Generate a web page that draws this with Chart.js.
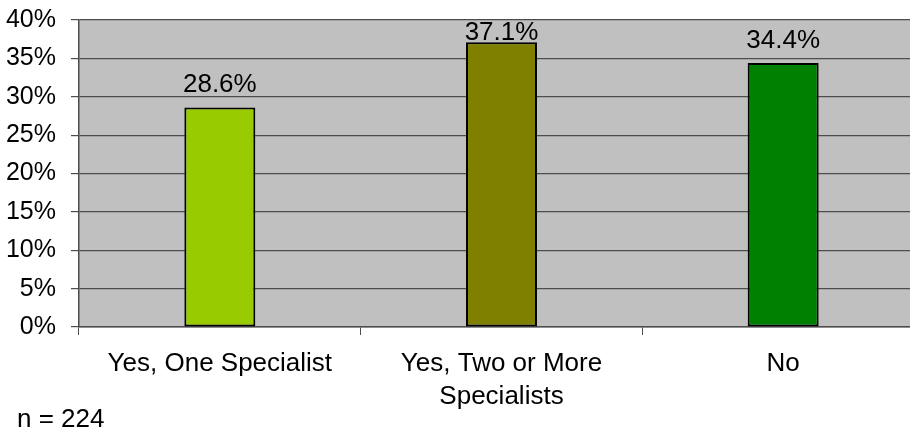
<!DOCTYPE html>
<html>
<head>
<meta charset="utf-8">
<script src="https://cdn.jsdelivr.net/npm/chart.js@4"></script>
<style>
  html, body { margin: 0; padding: 0; background: #fff; overflow: hidden; }
  #wrap { position: relative; width: 910px; height: 431px; overflow: hidden; }
  #chart { position: absolute; left: 0; top: -10px; }
</style>
</head>
<body>
<div id="wrap"><canvas id="chart" width="924" height="441"></canvas></div>
<script>
// ---------- DATA ----------
const categories = ["Yes, One Specialist", ["Yes, Two or More", "Specialists"], "No"];
const values = [28.6, 37.1, 34.4];
const barColors = ["#99CC00", "#808000", "#008000"];
const sampleNote = "n = 224";

const FONT = "'Liberation Sans', Arial, sans-serif";

// plot background + value labels + footnote
const extras = {
  id: "extras",
  beforeDraw(chart) {
    const { ctx, chartArea: a } = chart;
    ctx.save();
    ctx.fillStyle = "#C0C0C0";
    ctx.fillRect(a.left, a.top, a.right - a.left, a.bottom - a.top);
    ctx.restore();
  },
  afterDatasetsDraw(chart) {
    const { ctx, chartArea: a } = chart;
    const meta = chart.getDatasetMeta(0);
    ctx.save();
    ctx.font = "26px " + FONT;
    ctx.fillStyle = "#000";
    ctx.textAlign = "center";
    ctx.textBaseline = "alphabetic";
    meta.data.forEach((bar, i) => {
      let y = bar.y - 15;
      if (y < a.top + 20) y = a.top + 20;
      ctx.fillText(values[i].toFixed(1) + "%", bar.x, y);
    });
    ctx.textAlign = "left";
    ctx.fillText(sampleNote, 17, 437);
    ctx.restore();
  }
};

new Chart(document.getElementById("chart"), {
  type: "bar",
  data: {
    labels: categories,
    datasets: [{
      data: values,
      backgroundColor: barColors,
      borderColor: "#000",
      borderWidth: 2,
      borderSkipped: false,
      categoryPercentage: 1,
      barPercentage: 0.252
    }]
  },
  options: {
    responsive: false,
    animation: false,
    layout: { padding: { top: 10, right: 0, left: 0, bottom: 0 } },
    plugins: { legend: { display: false }, tooltip: { enabled: false } },
    scales: {
      x: {
        grid: { display: true, drawOnChartArea: false, drawTicks: true, tickLength: 8, color: "#4d4d4d", offset: true },
        border: { display: true, color: "#4d4d4d", width: 1.5 },
        ticks: { color: "#000", font: { family: FONT, size: 26, lineHeight: 1.25 }, padding: 13, maxRotation: 0, autoSkip: false },
        afterFit(s) { s.height = 104; }
      },
      y: {
        min: 0, max: 40,
        grid: { color: "#4d4d4d", lineWidth: 1.2, tickLength: 8 },
        border: { display: true, color: "#4d4d4d", width: 1.5 },
        ticks: { stepSize: 5, color: "#000", font: { family: FONT, size: 25 }, padding: 15, callback: v => v + "%" },
        afterFit(s) { s.width = 79; }
      }
    }
  },
  plugins: [extras]
});
</script>
</body>
</html>
